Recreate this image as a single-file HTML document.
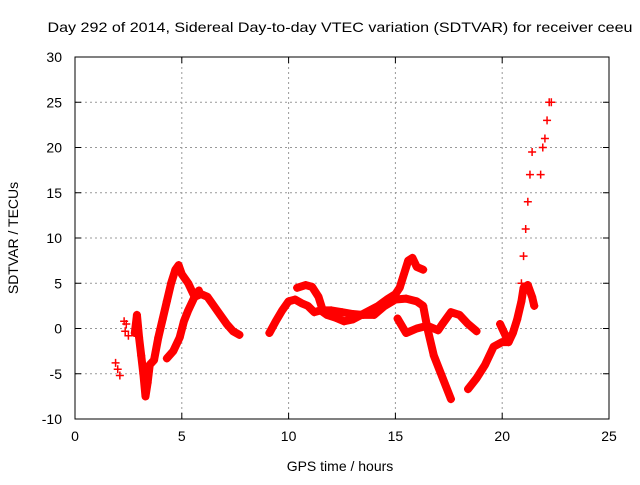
<!DOCTYPE html>
<html><head><meta charset="utf-8"><style>
body{margin:0;background:#fff}
svg{font-family:"Liberation Sans",sans-serif;font-size:14px}
</style></head><body>
<svg id="c" width="640" height="480"></svg>
<script>
const xTicks=[0,5,10,15,20,25];
const yTicks=[-10,-5,0,5,10,15,20,25,30];
const traceA_t=[1.9,2.0,2.1];const traceA_v=[-3.8,-4.5,-5.2];
const traceB_t=[2.3,2.35,2.4,2.5];const traceB_v=[0.8,-0.3,0.5,-0.8];
const traceC_t=[2.8,2.9,3.0,3.1,3.2,3.3,3.4,3.5,3.7,3.9,4.1,4.3,4.5,4.7,4.85,5.0,5.3,5.6,5.9,6.2,6.5,6.8,7.1,7.4,7.7];
const traceC_v=[-0.5,1.5,-1,-3,-5,-7.5,-6,-4,-3.5,-1,1,3,5,6.5,7,6,5,3.5,3.8,3.5,2.5,1.5,0.5,-0.3,-0.7];
const traceD_t=[4.3,4.6,4.9,5.1,5.3,5.6,5.8];const traceD_v=[-3.3,-2.5,-1,0.8,2,3.5,4.2];
const traceE_t=[9.1,9.4,9.7,10.0,10.3,10.6,10.9,11.2,11.5,11.8,12.2,12.6,13.0,13.4,13.8,14.2,14.6,15.0,15.2,15.4,15.6,15.8,16.0,16.3];
const traceE_v=[-0.5,0.8,2,3,3.2,2.8,2.5,1.8,2,1.5,1.2,0.8,1,1.5,2,2.5,3.2,3.8,4.5,6,7.5,7.8,6.8,6.5];
const traceF_t=[10.4,10.8,11.1,11.4,11.6,12.0,12.5,13.0,13.5,14.0,14.5,15.0,15.5,16.0,16.3,16.5,16.8,17.3,17.6];
const traceF_v=[4.5,4.8,4.6,3.5,2,2,1.8,1.6,1.5,1.5,2.5,3.2,3.3,3.0,2.5,0,-3,-6,-7.8];
const traceG_t=[15.1,15.5,16.0,16.5,17.0,17.2,17.6,18.0,18.4,18.8];
const traceG_v=[1.1,-0.5,0,0.3,-0.2,0.5,1.8,1.5,0.5,-0.3];
const traceH_t=[18.4,18.8,19.2,19.6,20.0,20.3,20.5,20.7,20.9,21.0,21.2,21.4,21.5];
const traceH_v=[-6.7,-5.5,-4,-2,-1.5,-1.5,-0.5,1,3,4.5,4.8,3.5,2.5];
const traceI_t=[19.9,20.1,20.3];const traceI_v=[0.5,-0.5,-1.5];
const traceJ_t=[20.9,21.0,21.1,21.2,21.3,21.4];const traceJ_v=[5,8,11,14,17,19.5];
const traceK_t=[21.8,21.9,22.0,22.1,22.2,22.3];const traceK_v=[17,20,21,23,25,25];
const traces=[[traceA_t,traceA_v],[traceB_t,traceB_v],[traceC_t,traceC_v],[traceD_t,traceD_v],[traceE_t,traceE_v],[traceF_t,traceF_v],[traceG_t,traceG_v],[traceH_t,traceH_v],[traceI_t,traceI_v],[traceJ_t,traceJ_v],[traceK_t,traceK_v]];
const L=75,R=609,T=57,B=419;
const X=t=>L+(t-0)/25*(R-L);
const Y=v=>B-(v+10)/40*(B-T);
const s=document.getElementById('c');const NS='http://www.w3.org/2000/svg';
function mk(tag,attrs,parent){const e=document.createElementNS(NS,tag);for(const k in attrs)e.setAttribute(k,attrs[k]);(parent||s).appendChild(e);return e;}
const title=mk('text',{x:340,y:32,'text-anchor':'middle',fill:'#000',textLength:585,lengthAdjust:'spacingAndGlyphs'});title.textContent='Day 292 of 2014, Sidereal Day-to-day VTEC variation (SDTVAR) for receiver ceeu';


xTicks.forEach(t=>{const x=X(t);
 if(t>0&&t<25){const g=mk('line',{x1:x,x2:x,y1:T,y2:B,stroke:'#999','stroke-dasharray':'2,3'});
 
 }
 mk('line',{x1:x,x2:x,y1:B,y2:B-6,stroke:'#000'});mk('line',{x1:x,x2:x,y1:T,y2:T+6,stroke:'#000'});
 const tx=mk('text',{x:x,y:B+22,'text-anchor':'middle'});tx.textContent=t;
 
 });
yTicks.forEach(v=>{const y=Y(v);
 if(v>-10&&v<30){const g=mk('line',{x1:L,x2:R,y1:y,y2:y,stroke:'#999','stroke-dasharray':'2,3'});
 
 }
 mk('line',{x1:L,x2:L+6,y1:y,y2:y,stroke:'#000'});mk('line',{x1:R,x2:R-6,y1:y,y2:y,stroke:'#000'});
 const tx=mk('text',{x:L-13,y:y+5,'text-anchor':'end'});tx.textContent=v;
 
 });
const frame=mk('rect',{x:L,y:T,width:R-L,height:B-T,fill:'none',stroke:'#000'});


const xl=mk('text',{x:340,y:471,'text-anchor':'middle'});xl.textContent='GPS time / hours';


const yl=mk('text',{x:0,y:0,'text-anchor':'middle',transform:'translate(18,238) rotate(-90)'});yl.textContent='SDTVAR / TECUs';


traces.forEach(([ts,vs],i)=>{
 const sparse=(i===9||i===10||i===0||i===1);
 if(!sparse){const p=mk('polyline',{points:ts.map((t,j)=>X(t)+','+Y(vs[j])).join(' '),fill:'none',stroke:'#f00','stroke-width':8,'stroke-linejoin':'round','stroke-linecap':'round'});
 
 }
 ts.forEach((t,j)=>{const x=X(t),y=Y(vs[j]);
  const m=mk('path',{d:`M${x-4},${y}H${x+4}M${x},${y-4}V${y+4}`,stroke:'#f00','stroke-width':1.5});
  
  });
});
</script>
</body></html>
